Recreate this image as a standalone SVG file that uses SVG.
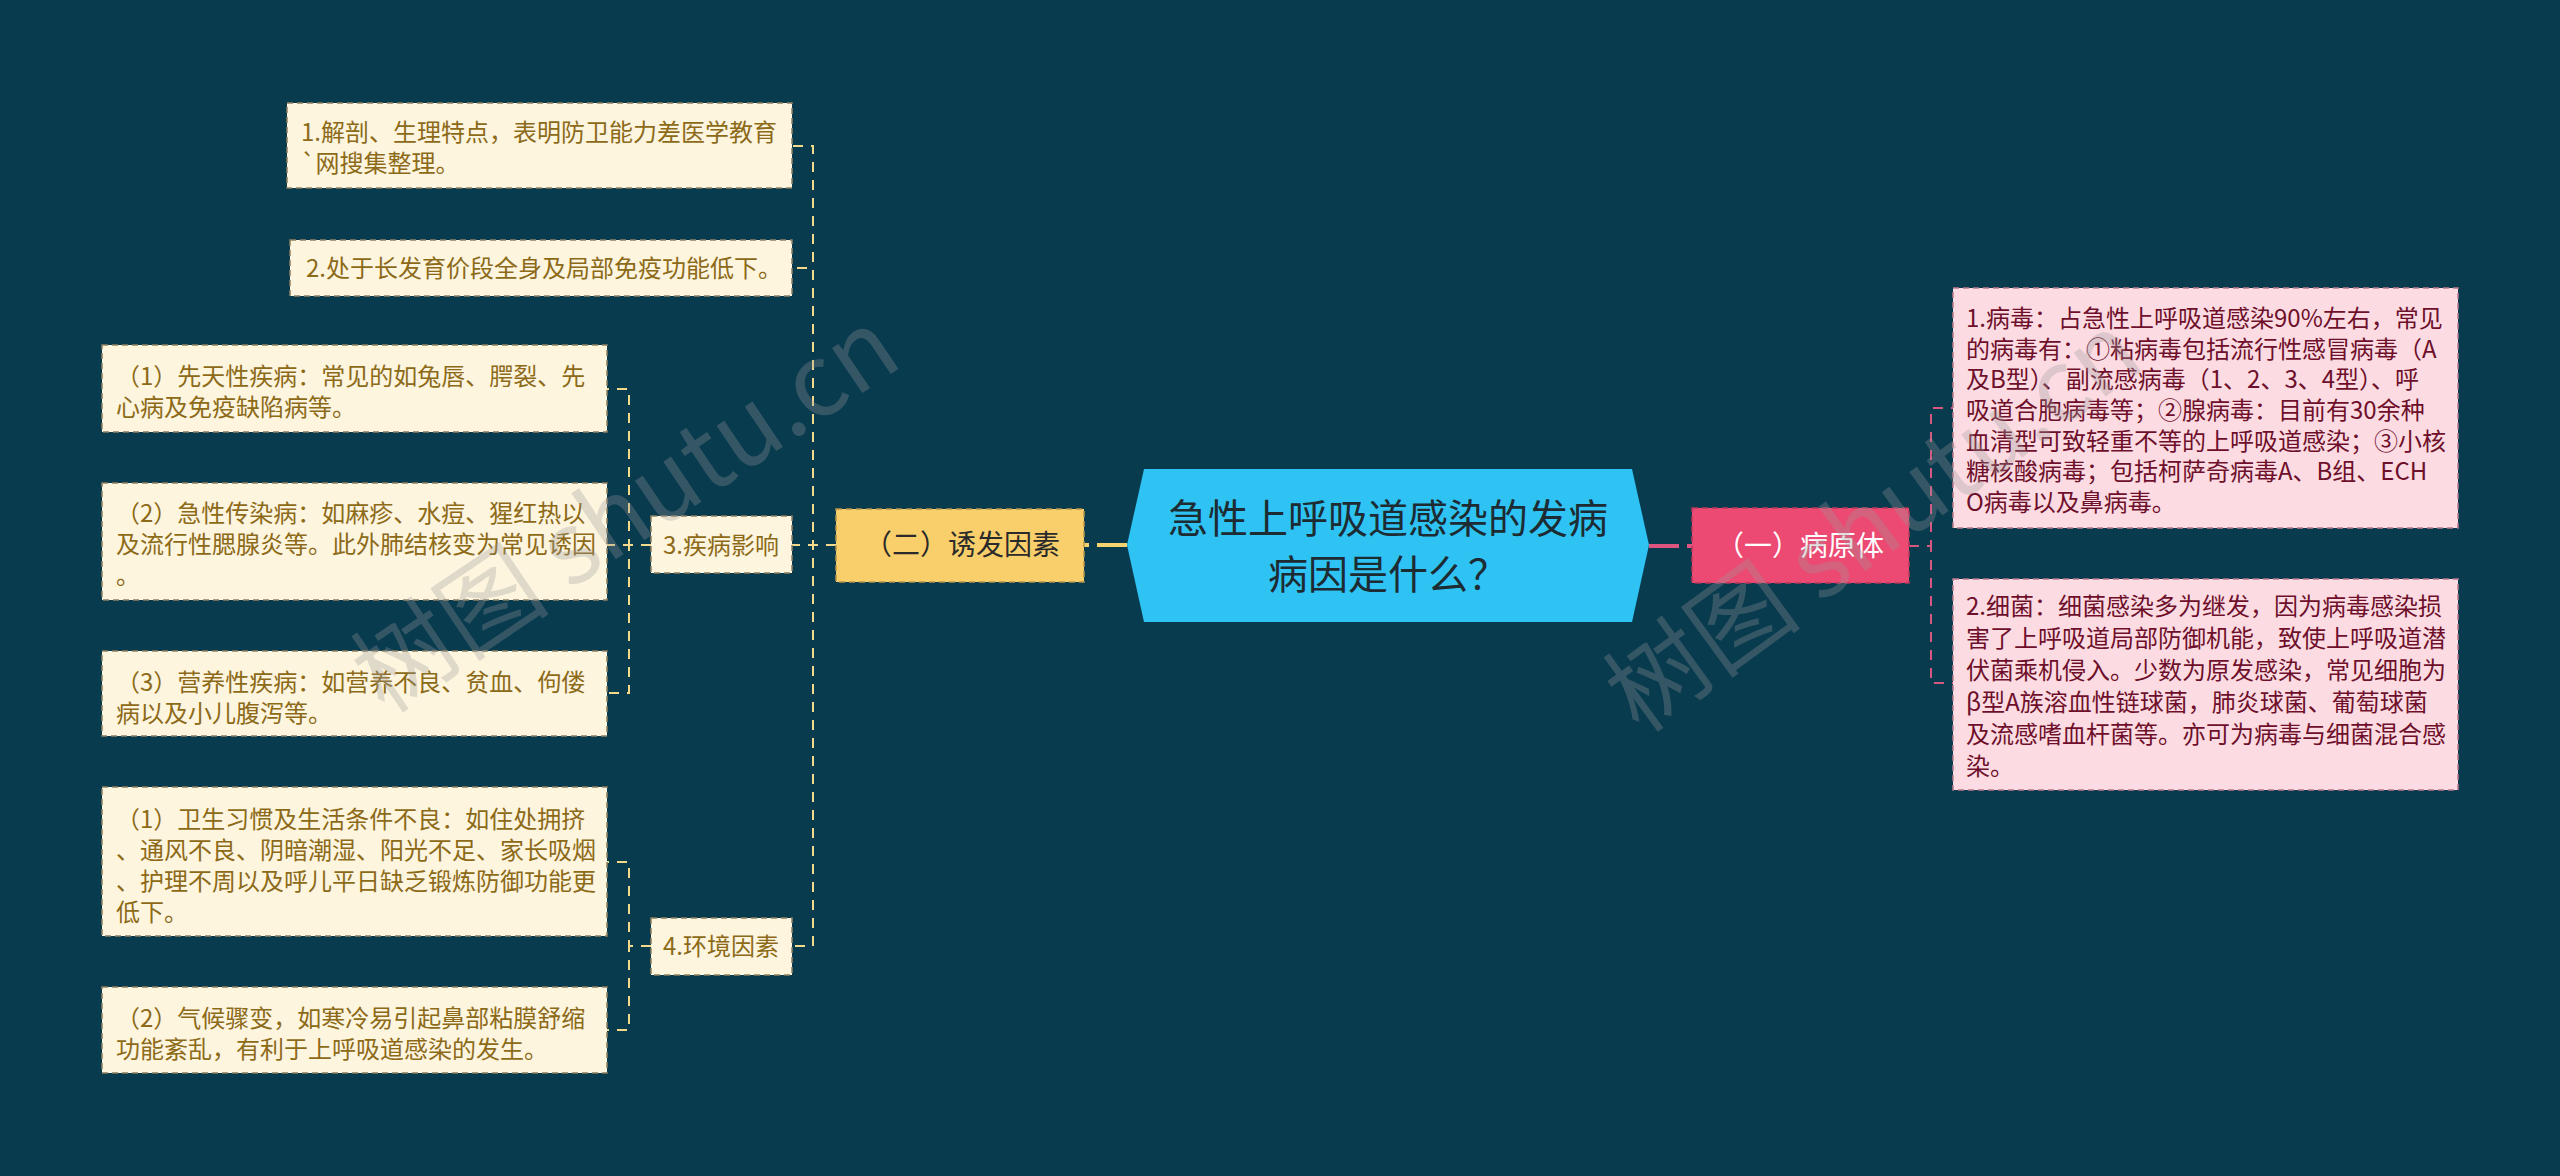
<svg xmlns="http://www.w3.org/2000/svg" width="2560" height="1176" viewBox="0 0 2560 1176">
<style>
text{font-family:"Noto Sans CJK SC","Noto Sans",sans-serif;}
.leaf{fill:#FEF5DF;stroke:#8f8060;stroke-width:1.5;stroke-dasharray:6 4;}
.leaft{fill:#8C6A18;font-size:24px;}
.pink{fill:#FCDCE2;stroke:#b87a8c;stroke-width:1.5;stroke-dasharray:6 4;}
.pinkt{fill:#6E0F2B;font-size:24px;}
.cy{fill:none;stroke:#F2D98C;stroke-width:2;stroke-dasharray:10 8;}
.cp{fill:none;stroke:#D4587F;stroke-width:2;stroke-dasharray:10 8;}
.wm{fill:#9a9a9a;opacity:0.3;font-size:100px;font-family:"Noto Sans CJK SC","Liberation Sans",sans-serif;}
</style>
<rect width="2560" height="1176" fill="#093B4F"/>

<g id="connectors">
  <path d="M1127,545 H1083" stroke="#F5D36E" stroke-width="4" stroke-dasharray="30 8" fill="none"/>
  <path d="M1649,546 H1692" stroke="#DE5580" stroke-width="4" stroke-dasharray="30 8" fill="none"/>
  <path class="cy" d="M836,545 H813 V146 H792"/>
  <path class="cy" d="M836,545 H813 V268 H792"/>
  <path class="cy" d="M836,545 H792"/>
  <path class="cy" d="M836,545 H813 V946 H792"/>
  <path class="cy" d="M651,545 H629 V389 H607"/>
  <path class="cy" d="M651,545 H607"/>
  <path class="cy" d="M651,545 H629 V693 H607"/>
  <path class="cy" d="M651,946 H629 V862 H607"/>
  <path class="cy" d="M651,946 H629 V1030 H607"/>
  <path class="cp" d="M1909,546 H1931 V408 H1953"/>
  <path class="cp" d="M1909,546 H1931 V683 H1953"/>
</g>

<g id="root">
  <polygon points="1127,545 1144,469 1632,469 1649,545 1632,622 1144,622" fill="#2EC3F2"/>
  <text x="1388" y="533" font-size="40" fill="#1d2b33" text-anchor="middle">急性上呼吸道感染的发病</text>
  <text x="1388" y="589" font-size="40" fill="#1d2b33" text-anchor="middle">病因是什么？</text>
</g>

<g id="n-bingyuanti">
  <rect x="1692" y="508" width="217" height="75" fill="#EC4A72" stroke="#b8395c" stroke-width="1.5" stroke-dasharray="6 4"/>
  <text x="1800" y="556" font-size="28" fill="#ffffff" text-anchor="middle">（一）病原体</text>
</g>

<g id="n-virus">
  <rect class="pink" x="1953" y="288" width="505" height="240"/>
  <text class="pinkt" x="1966" y="327">1.病毒：占急性上呼吸道感染90%左右，常见</text>
  <text class="pinkt" x="1966" y="358">的病毒有：①粘病毒包括流行性感冒病毒（A</text>
  <text class="pinkt" x="1966" y="388">及B型）、副流感病毒（1、2、3、4型）、呼</text>
  <text class="pinkt" x="1966" y="419">吸道合胞病毒等；②腺病毒：目前有30余种</text>
  <text class="pinkt" x="1966" y="450">血清型可致轻重不等的上呼吸道感染；③小核</text>
  <text class="pinkt" x="1966" y="480">糖核酸病毒；包括柯萨奇病毒A、B组、ECH</text>
  <text class="pinkt" x="1966" y="511">O病毒以及鼻病毒。</text>
</g>

<g id="n-bacteria">
  <rect class="pink" x="1953" y="579" width="505" height="211"/>
  <text class="pinkt" x="1966" y="615">2.细菌：细菌感染多为继发，因为病毒感染损</text>
  <text class="pinkt" x="1966" y="647">害了上呼吸道局部防御机能，致使上呼吸道潜</text>
  <text class="pinkt" x="1966" y="679">伏菌乘机侵入。少数为原发感染，常见细胞为</text>
  <text class="pinkt" x="1966" y="711">β型A族溶血性链球菌，肺炎球菌、葡萄球菌</text>
  <text class="pinkt" x="1966" y="743">及流感嗜血杆菌等。亦可为病毒与细菌混合感</text>
  <text class="pinkt" x="1966" y="775">染。</text>
</g>

<g id="n-youfa">
  <rect x="836" y="509" width="248" height="73" fill="#F9CF6B" stroke="#b8954a" stroke-width="1.5" stroke-dasharray="6 4"/>
  <text x="962" y="555" font-size="28" fill="#2a2a2a" text-anchor="middle">（二）诱发因素</text>
</g>

<g id="n-jiepou">
  <rect class="leaf" x="287" y="103" width="505" height="85"/>
  <text class="leaft" x="301" y="141">1.解剖、生理特点，表明防卫能力差医学教育</text>
  <text class="leaft" x="301" y="172">`网搜集整理。</text>
</g>

<g id="n-fayu">
  <rect class="leaf" x="290" y="240" width="502" height="56"/>
  <text class="leaft" x="306" y="277">2.处于长发育价段全身及局部免疫功能低下。</text>
</g>

<g id="n-jibing">
  <rect class="leaf" x="651" y="516" width="141" height="57"/>
  <text class="leaft" x="721" y="554" text-anchor="middle">3.疾病影响</text>
</g>

<g id="n-huanjing">
  <rect class="leaf" x="651" y="918" width="141" height="57"/>
  <text class="leaft" x="721" y="955" text-anchor="middle">4.环境因素</text>
</g>

<g id="n-xiantian">
  <rect class="leaf" x="102" y="345" width="505" height="87"/>
  <text class="leaft" x="116" y="385">（1）先天性疾病：常见的如兔唇、腭裂、先</text>
  <text class="leaft" x="116" y="416">心病及免疫缺陷病等。</text>
</g>

<g id="n-chuanran">
  <rect class="leaf" x="102" y="483" width="505" height="117"/>
  <text class="leaft" x="116" y="522">（2）急性传染病：如麻疹、水痘、猩红热以</text>
  <text class="leaft" x="116" y="553">及流行性腮腺炎等。此外肺结核变为常见诱因</text>
  <text class="leaft" x="116" y="584">。</text>
</g>

<g id="n-yingyang">
  <rect class="leaf" x="102" y="651" width="505" height="85"/>
  <text class="leaft" x="116" y="691">（3）营养性疾病：如营养不良、贫血、佝偻</text>
  <text class="leaft" x="116" y="722">病以及小儿腹泻等。</text>
</g>

<g id="n-weisheng">
  <rect class="leaf" x="102" y="787" width="505" height="149"/>
  <text class="leaft" x="116" y="828">（1）卫生习惯及生活条件不良：如住处拥挤</text>
  <text class="leaft" x="116" y="859">、通风不良、阴暗潮湿、阳光不足、家长吸烟</text>
  <text class="leaft" x="116" y="890">、护理不周以及呼儿平日缺乏锻炼防御功能更</text>
  <text class="leaft" x="116" y="921">低下。</text>
</g>

<g id="n-qihou">
  <rect class="leaf" x="102" y="987" width="505" height="86"/>
  <text class="leaft" x="116" y="1027">（2）气候骤变，如寒冷易引起鼻部粘膜舒缩</text>
  <text class="leaft" x="116" y="1058">功能紊乱，有利于上呼吸道感染的发生。</text>
</g>

<g id="watermark">
  <text class="wm" x="0" y="0" transform="translate(385,715) rotate(-34)">树图 shutu.cn</text>
  <text class="wm" x="0" y="0" transform="translate(1640,735) rotate(-36)">树图 shutu.cn</text>
</g>
</svg>
